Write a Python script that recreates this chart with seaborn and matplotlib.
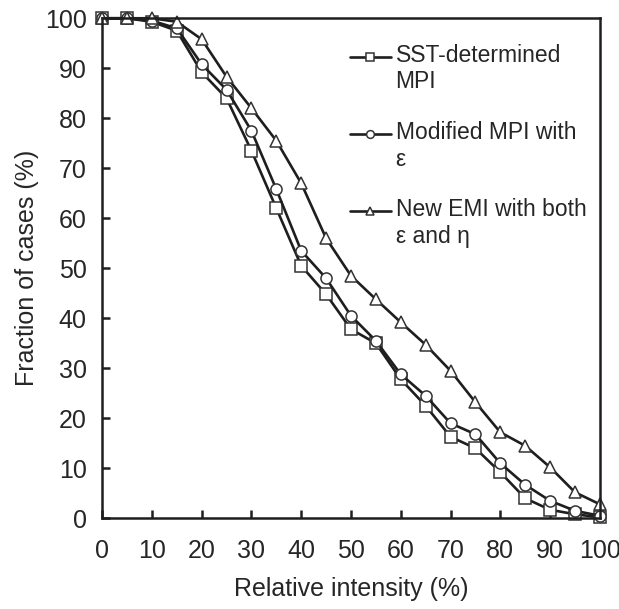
import seaborn as sns
import pandas as pd
import numpy as np
import matplotlib.pyplot as plt

intensity = list(range(0, 105, 5))
sst_mpi = [100, 100, 99.3, 97.5, 89.2, 84.0, 73.5, 62.0, 50.5, 44.8, 37.8, 35.0,
           27.8, 22.5, 16.3, 14.0, 9.2, 4.0, 1.7, 0.8, 0.2]
mod_mpi = [100, 100, 99.5, 98.0, 90.8, 85.7, 77.5, 65.8, 53.5, 48.0, 40.5, 35.5,
           28.8, 24.5, 19.0, 16.8, 11.0, 6.7, 3.5, 1.5, 0.5]
new_emi = [100, 100, 100, 99.3, 95.8, 88.3, 82.0, 75.5, 67.0, 56.0, 48.5, 43.8,
           39.2, 34.7, 29.5, 23.2, 17.2, 14.5, 10.2, 5.2, 2.8]
labels = ["SST-determined\nMPI", "Modified MPI with\nε", "New EMI with both\nε and η"]

df = pd.DataFrame({
    "x": intensity * 3,
    "y": sst_mpi + mod_mpi + new_emi,
    "series": [labels[0]] * 21 + [labels[1]] * 21 + [labels[2]] * 21,
})

sns.set_style("ticks")
plt.rcParams["font.family"] = ["Liberation Sans", "DejaVu Sans"]

fig = plt.figure(figsize=(6.19, 6.09), dpi=100)
ax = fig.add_axes([0.165, 0.149, 0.804, 0.821])

sns.lineplot(data=df, x="x", y="y", style="series", markers={labels[0]: "s", labels[1]: "o", labels[2]: "^"},
             dashes=False, color="#1e1e1e", linewidth=1.9, markersize=8,
             markerfacecolor="white", markeredgecolor="#333333", markeredgewidth=1.1,
             ax=ax, legend=False)

ax.set_xlim(0, 100)
ax.set_ylim(0, 100)
ax.set_xticks(range(0, 101, 10))
ax.set_yticks(range(0, 101, 10))
ax.tick_params(direction="in", length=6, width=1.8, labelsize=18, color="#1e1e1e")
ax.tick_params(axis="x", pad=15)
ax.tick_params(axis="y", pad=11)
for s in ax.spines.values():
    s.set_linewidth(1.8)
    s.set_color("#1e1e1e")
ax.set_xlabel("Relative intensity (%)", fontsize=18, labelpad=10)
ax.set_ylabel("Fraction of cases (%)", fontsize=18, labelpad=4)

handles = ax.get_lines()[:3]
for h in handles:
    h.set_clip_on(False)
leg = ax.legend(handles, labels, loc="upper left", bbox_to_anchor=(0.456, 0.99), frameon=False,
                fontsize=16.5, handlelength=1.8, handletextpad=0.2, labelspacing=1.2, markerscale=0.7)
# put each legend handle beside the first line of its label
for ln in leg.get_lines():
    ln.set_ydata(np.asarray(ln.get_ydata()) + 9)

fig.savefig("out.png", dpi=100)
